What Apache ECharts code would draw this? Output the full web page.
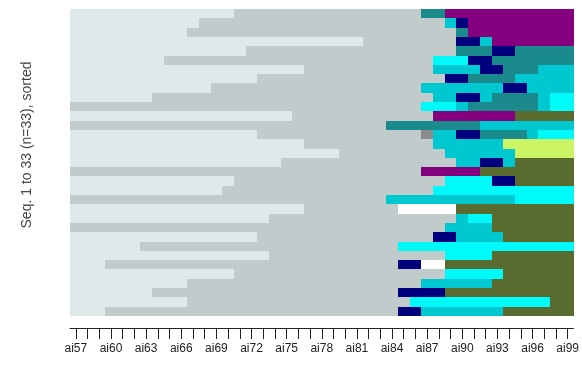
<!DOCTYPE html>
<html><head><meta charset="utf-8">
<script src="https://cdn.jsdelivr.net/npm/echarts@6/dist/echarts.min.js"></script>
<style>html,body{margin:0;padding:0;background:#fff}#c{width:582px;height:373px}</style>
</head><body><div id="c"></div>
<script>
// Positions (columns) ai57 .. ai99
const positions = ['ai57','ai58','ai59','ai60','ai61','ai62','ai63','ai64','ai65','ai66','ai67','ai68','ai69','ai70','ai71','ai72','ai73','ai74','ai75','ai76','ai77','ai78','ai79','ai80','ai81','ai82','ai83','ai84','ai85','ai86','ai87','ai88','ai89','ai90','ai91','ai92','ai93','ai94','ai95','ai96','ai97','ai98','ai99'];

// State alphabet
const states = ['L','G','T','C','M','N','P','O','Y','W','D'];
const stateColors = {L:'#DEEAEA',G:'#C2CBCB',T:'#1B8A8C',C:'#00FAFA',M:'#00C8D0',N:'#00007E',P:'#84007E',O:'#596B2E',Y:'#CCF565',W:'#FFFFFF',D:'#8C8C8C'};

// 33 sorted sequences, top to bottom, run-length coded (state + run length)
const sequences = [
  'L14 G16 T2 P11',
  'L11 G21 M1 N1 P9',
  'L10 G23 T1 P9',
  'L25 G8 N2 M1 P7',
  'L15 G18 T3 N2 T5',
  'L8 G23 C3 N2 T7',
  'L20 G11 M4 N2 T3 M3',
  'L16 G16 N2 T4 M5',
  'L12 G18 M7 N2 M4',
  'L7 G24 M2 N2 M1 T4 M1 C2',
  'G30 C3 M1 T6 M1 C2',
  'L19 G12 P7 O5',
  'G27 T8 M8',
  'L16 G14 D1 M2 N2 T4 M1 C3',
  'L20 G11 M6 Y6',
  'L23 G9 M6 Y5',
  'L18 G15 M2 N2 M1 O5',
  'G30 P5 O8',
  'L14 G18 C4 N2 O5',
  'L13 G18 C12',
  'G27 M11 C5',
  'L20 G8 W5 O10',
  'L17 G16 M1 C2 O7',
  'G32 M4 O7',
  'L16 G15 N2 M4 O6',
  'L6 G22 C15',
  'L17 G15 C4 O7',
  'L3 G25 N2 W2 O11',
  'L14 G18 C5 O6',
  'L10 G20 M6 O7',
  'L7 G21 N4 O11',
  'L10 G19 C12 O2',
  'L3 G25 N2 M7 O6'
];
const rowNames = sequences.map((s, i) => String(33 - i));
const yTitle = 'Seq. 1 to 33 (n=33), sorted';

// decode runs
const runs = [];
sequences.forEach((seq, r) => {
  let c = 0;
  seq.split(' ').forEach(tok => {
    const st = tok[0], n = parseInt(tok.slice(1), 10);
    runs.push([c, c + n - 1, r, states.indexOf(st)]);
    c += n;
  });
});

const chart = echarts.init(document.getElementById('c'), null, {renderer: 'canvas'});
chart.setOption({
  animation: false,
  backgroundColor: '#fff',
  grid: {left: 70, right: 5, top: 9, bottom: 57},
  xAxis: {
    type: 'category', data: positions, boundaryGap: true,
    offset: 12,
    axisLine: {show: true, lineStyle: {color: '#222', width: 1}},
    axisTick: {show: true, alignWithLabel: true, interval: 0, length: 11, lineStyle: {color: '#222'}},
    axisLabel: {interval: 2, margin: 15, fontSize: 12, color: '#222', fontFamily: 'Liberation Sans, Arial, sans-serif'},
    splitLine: {show: false}
  },
  yAxis: {
    type: 'category', data: rowNames, inverse: true, show: false
  },
  graphic: [{
    type: 'text', x: 27, y: 145, rotation: Math.PI / 2,
    style: {text: yTitle, fontSize: 14, fill: '#444', align: 'center', verticalAlign: 'middle', fontFamily: 'Liberation Sans, Arial, sans-serif'}
  }],
  series: [{
    type: 'custom',
    encode: {x: [0, 1], y: 2},
    data: runs,
    renderItem: function (params, api) {
      const s = api.value(0), e = api.value(1), r = api.value(2), st = api.value(3);
      const p0 = api.coord([s, r]);
      const p1 = api.coord([e, r]);
      const sz = api.size([1, 1]);
      const w = Math.abs(sz[0]), h = Math.abs(sz[1]);
      const x0 = Math.round(p0[0] - w / 2), x1 = Math.round(p1[0] + w / 2);
      const y0 = Math.round(p0[1] - h / 2), y1 = Math.round(p0[1] + h / 2);
      return {type: 'rect', shape: {x: x0, y: y0, width: x1 - x0, height: y1 - y0},
        style: {fill: stateColors[states[st]]}};
    }
  }]
});
</script>
</body></html>
